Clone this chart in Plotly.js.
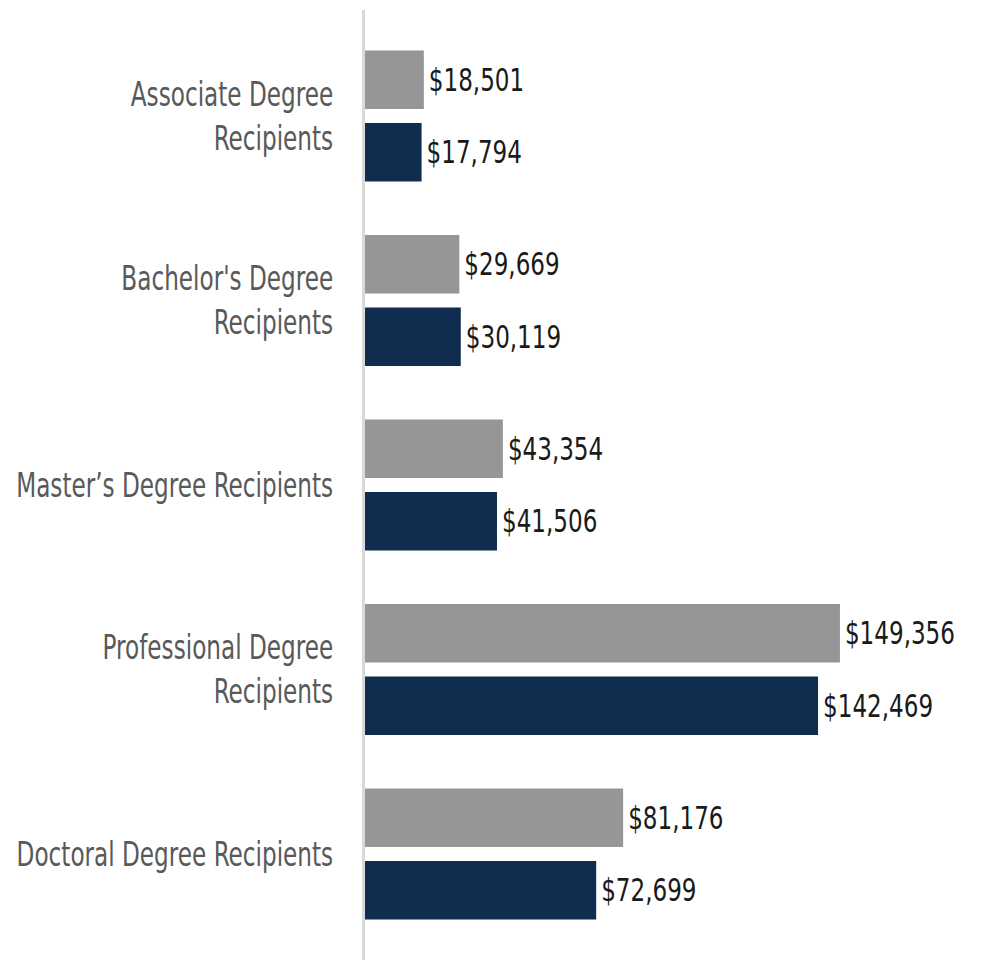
<!DOCTYPE html>
<html>
<head>
<meta charset="utf-8">
<script src="https://cdn.plot.ly/plotly-3.0.1.min.js"></script>
<style>html,body{margin:0;padding:0;background:#fff;}#chart{width:981px;height:971px;}</style>
</head>
<body>
<div id="chart"></div>
<script>
const categories = [
  "Associate Degree<br>Recipients",
  "Bachelor's Degree<br>Recipients",
  "Master’s Degree Recipients",
  "Professional Degree<br>Recipients",
  "Doctoral Degree Recipients"
];
const grayValues = [18501, 29669, 43354, 149356, 81176];
const navyValues = [17794, 30119, 41506, 142469, 72699];

const FONT = "'DejaVu Sans Condensed', 'Liberation Sans', sans-serif";

const common = {
  type: 'bar',
  orientation: 'h',
  y: categories,
  texttemplate: '$%{x:,}',
  textposition: 'outside',
  cliponaxis: false,
  constraintext: 'none',
  textfont: {family: FONT, size: 32, color: '#1a1a1a'},
  hoverinfo: 'none'
};

const traces = [
  Object.assign({}, common, {name: 'Series A', x: grayValues, marker: {color: '#969696'}}),
  Object.assign({}, common, {name: 'Series B', x: navyValues, marker: {color: '#0f2d4e'}})
];

const layout = {
  width: 981, height: 971,
  margin: {l: 365, r: 16, t: 10, b: 11},
  paper_bgcolor: '#ffffff',
  plot_bgcolor: '#ffffff',
  showlegend: false,
  barmode: 'group',
  bargap: 0.214,
  bargroupgap: 0.193,
  separators: '.,',
  font: {family: FONT},
  xaxis: {
    range: [0, 188680],
    showgrid: false, zeroline: false, showline: false,
    showticklabels: false, ticks: ''
  },
  yaxis: {
    type: 'category',
    range: [4.5745, -0.5745],
    showgrid: false, zeroline: false,
    showline: true, linecolor: '#d9d9d9', linewidth: 3,
    ticks: '',
    ticklabelstandoff: 22,
    tickfont: {family: FONT, size: 34, color: '#595959'}
  }
};

// Condense text horizontally to mimic a narrow typeface
function condense(gd) {
  const tickTexts = Array.from(gd.querySelectorAll('.ytick text'));
  const pieces = [];
  tickTexts.forEach(t => {
    const tsp = t.querySelectorAll('tspan.line');
    if (tsp.length) tsp.forEach(s => pieces.push(s)); else pieces.push(t);
  });
  let ref = pieces.find(p => p.textContent.indexOf('Master') === 0);
  const kTick = ref ? 317 / ref.getComputedTextLength() : 0.8;
  pieces.forEach(p => {
    const len = p.getComputedTextLength();
    p.setAttribute('textLength', (len * kTick).toFixed(2));
    p.setAttribute('lengthAdjust', 'spacingAndGlyphs');
  });

  const barTexts = Array.from(gd.querySelectorAll('text.bartext'));
  const refB = barTexts.find(t => t.textContent === '$149,356');
  const kVal = refB ? 110 / refB.getComputedTextLength() : 0.8;
  barTexts.forEach(t => {
    const len = t.getComputedTextLength();
    const newLen = len * kVal;
    const anchor = t.getAttribute('text-anchor') || 'start';
    let shift = 2;
    if (anchor === 'middle') shift += -(len - newLen) / 2;
    else if (anchor === 'end') shift += -(len - newLen);
    t.setAttribute('textLength', newLen.toFixed(2));
    t.setAttribute('lengthAdjust', 'spacingAndGlyphs');
    const tr = t.getAttribute('transform') || '';
    t.setAttribute('transform', 'translate(' + shift.toFixed(2) + ',0) ' + tr);
  });
}

Plotly.newPlot('chart', traces, layout, {displayModeBar: false, staticPlot: true})
  .then(gd => condense(gd));
</script>
</body>
</html>
